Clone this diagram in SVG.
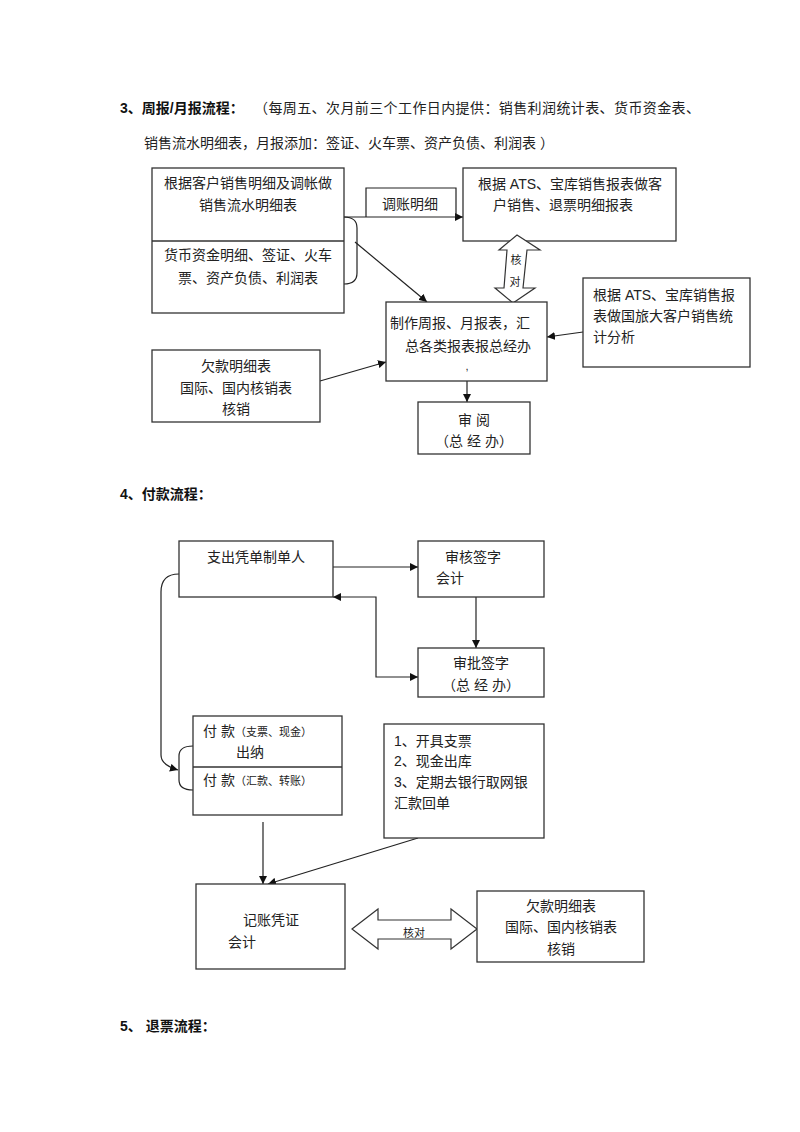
<svg xmlns="http://www.w3.org/2000/svg" width="800" height="1132" viewBox="0 0 800 1132">
<style>
text{font-family:"Liberation Sans","Noto Sans CJK SC",sans-serif;font-size:14px;fill:#222}
.b{font-weight:bold;fill:#111}
.s{font-size:11px}
.m{text-anchor:middle}
.box{fill:#fff;stroke:#333;stroke-width:1.3}
.ln{fill:none;stroke:#222;stroke-width:1.2}
.ha{fill:#fff;stroke:#333;stroke-width:1.2}
</style>
<defs>
<marker id="ar" viewBox="0 0 10 10" refX="10" refY="5" markerWidth="8" markerHeight="8" markerUnits="userSpaceOnUse" orient="auto-start-reverse"><path d="M0,0 L10,5 L0,10 z" fill="#111"/></marker>
</defs>
<rect width="800" height="1132" fill="#fff"/>

<g id="titles">
<text x="120" y="113"><tspan class="b">3、周报/月报流程：</tspan><tspan x="254" letter-spacing="0.4">（每周五、次月前三个工作日内提供：销售利润统计表、货币资金表、</tspan></text>
<text x="144" y="148">销售流水明细表，月报添加：签证、火车票、资产负债、利润表 ）</text>
<text x="120" y="499" class="b">4、付款流程：</text>
<text x="120" y="1031" class="b">5、 退票流程：</text>
</g>

<g id="connectors">
<path class="ln" d="M344,217 L463,217" marker-end="url(#ar)"/>
<path class="ln" d="M344,217 Q357,217 357,228 L357,273 Q357,284 344,284"/>
<path class="ln" d="M355,242 L427,302" marker-end="url(#ar)"/>
<path class="ln" d="M583,332 L547,337" marker-end="url(#ar)"/>
<path class="ln" d="M320,381 L386,362" marker-end="url(#ar)"/>
<path class="ln" d="M467,381 L467,402" marker-end="url(#ar)"/>
<path class="ln" d="M333,567 L418,567" marker-end="url(#ar)"/>
<path class="ln" d="M476,597 L476,648" marker-end="url(#ar)"/>
<path class="ln" d="M333,597 L376,597 L376,677 L418,677" marker-start="url(#ar)" marker-end="url(#ar)"/>
<path class="ln" d="M179,574 Q161,574 161,592 L161,755 Q161,765 178,770" marker-end="url(#ar)"/>
<path class="ln" d="M193,746 Q179,746 179,756 L179,780 Q179,790 193,790"/>
<path class="ln" d="M263,822 L263,884" marker-end="url(#ar)"/>
<path class="ln" d="M418,838 L268,884" marker-end="url(#ar)"/>
</g>

<g id="boxA">
<rect class="box" x="152" y="168" width="192" height="145"/>
<line x1="152" y1="241" x2="344" y2="241" stroke="#333" stroke-width="1.3"/>
<text x="248" y="188" class="m">根据客户销售明细及调帐做</text>
<text x="248" y="210" class="m">销售流水明细表</text>
<text x="248" y="260" class="m">货币资金明细、签证、火车</text>
<text x="248" y="283" class="m">票、资产负债、利润表</text>
</g>

<g id="tiaozhang">
<path class="ln" d="M366,217 L366,188 L456,188 L456,217"/>
<text x="410" y="209" class="m">调账明细</text>
</g>

<g id="boxB">
<rect class="box" x="463" y="168" width="213" height="73"/>
<text x="570" y="189" class="m">根据 ATS、宝库销售报表做客</text>
<text x="563" y="210" class="m">户销售、退票明细报表</text>
</g>

<g id="verifyV">
<polygon class="ha" points="517,235 540,250 527,250 523,288 535,288 513,303 495,288 504,288 507,250 499,250"/>
<text x="516" y="264" class="m s">核</text>
<text x="515" y="286" class="m s">对</text>
</g>

<g id="boxC">
<rect class="box" x="583" y="278" width="167" height="89"/>
<text x="593" y="300">根据 ATS、宝库销售报</text>
<text x="593" y="321">表做国旅大客户销售统</text>
<text x="593" y="342">计分析</text>
</g>

<g id="boxD">
<rect class="box" x="386" y="302" width="161" height="79"/>
<text x="390" y="328">制作周报、月报表，汇</text>
<text x="405" y="351">总各类报表报总经办</text>
<text x="467" y="370" class="s m">,</text>
</g>

<g id="boxE">
<rect class="box" x="152" y="350" width="168" height="72"/>
<text x="236" y="371" class="m">欠款明细表</text>
<text x="236" y="393" class="m">国际、国内核销表</text>
<text x="236" y="414" class="m">核销</text>
</g>

<g id="review">
<rect class="box" x="418" y="402" width="112" height="52"/>
<text x="474" y="425" class="m">审 阅</text>
<text x="474" y="446" class="m">（总 经 办）</text>
</g>

<g id="zhichu">
<rect class="box" x="179" y="541" width="154" height="56"/>
<text x="256" y="562" class="m">支出凭单制单人</text>
</g>

<g id="shenhe">
<rect class="box" x="418" y="541" width="126" height="56"/>
<text x="445" y="562">审核签字</text>
<text x="436" y="583">会计</text>
</g>

<g id="shenpi">
<rect class="box" x="418" y="648" width="126" height="49"/>
<text x="481" y="668" class="m">审批签字</text>
<text x="481" y="690" class="m">（总 经 办）</text>
</g>

<g id="fukuan">
<rect class="box" x="193" y="716" width="149" height="99"/>
<line x1="193" y1="767" x2="342" y2="767" stroke="#333" stroke-width="1.3"/>
<text x="203" y="736">付 款<tspan class="s">（支票、现金）</tspan></text>
<text x="236" y="757">出纳</text>
<text x="203" y="785">付 款<tspan class="s">（汇款、转账）</tspan></text>
</g>

<g id="steps">
<rect class="box" x="384" y="724" width="160" height="114"/>
<text x="394" y="746">1、开具支票</text>
<text x="394" y="766">2、现金出库</text>
<text x="394" y="787">3、定期去银行取网银</text>
<text x="394" y="808">汇款回单</text>
</g>

<g id="jizhang">
<rect class="box" x="196" y="884" width="149" height="85"/>
<text x="243" y="925">记账凭证</text>
<text x="228" y="947">会计</text>
</g>

<g id="verifyH">
<polygon class="ha" points="352,929 378,909 378,920 451,920 451,909 477,929 451,949 451,939 378,939 378,949"/>
<text x="414" y="937" class="m s">核对</text>
</g>

<g id="qiankuan">
<rect class="box" x="477" y="891" width="167" height="71"/>
<text x="561" y="911" class="m">欠款明细表</text>
<text x="561" y="932" class="m">国际、国内核销表</text>
<text x="561" y="954" class="m">核销</text>
</g>
</svg>
